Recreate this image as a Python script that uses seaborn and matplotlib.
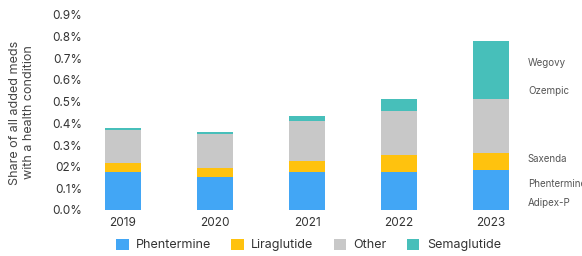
import pandas as pd
import matplotlib.pyplot as plt
import seaborn as sns
from matplotlib.patches import Patch

# data (% of all added meds with a health condition)
years = ["2019", "2020", "2021", "2022", "2023"]
phentermine = [0.174, 0.152, 0.174, 0.174, 0.185]
liraglutide = [0.043, 0.042, 0.052, 0.080, 0.077]
other = [0.154, 0.158, 0.186, 0.203, 0.250]
semaglutide = [0.009, 0.009, 0.022, 0.055, 0.269]
series = ["Phentermine", "Liraglutide", "Other", "Semaglutide"]
colors = ["#42A6F5", "#FFC20E", "#C8C8C8", "#47BFBA"]
ytick_labels = ["0.0%", "0.1%", "02%", "0.3%", "0.4%", "0.5%", "0.6%", "0.7%", "0.8%", "0.9%"]
brand_names = ["Wegovy", "Ozempic", "Saxenda", "Phentermine", "Adipex-P"]
brand_y = [0.678, 0.549, 0.235, 0.120, 0.032]

df = pd.DataFrame({"year": years, "Phentermine": phentermine, "Liraglutide": liraglutide,
                   "Other": other, "Semaglutide": semaglutide})

sns.set_style("white")
plt.rcParams["font.family"] = ["Inter", "DejaVu Sans"]
text_col = "#333333"

fig = plt.figure(figsize=(5.82, 2.56), dpi=100)
ax = fig.add_axes([100 / 582, 46 / 256, 415 / 582, 195 / 256])

# stacked bars, one layer per series
bottom = pd.Series([0.0] * len(years))
for name, col in zip(series, colors):
    sns.barplot(data=df, x="year", y=name, bottom=bottom, color=col, width=0.4,
                saturation=1, ax=ax, linewidth=0)
    bottom = bottom + df[name]

ax.set_ylim(0, 0.9)
ax.set_xlim(-0.25, 4.26)
ax.set_yticks([i / 10 for i in range(10)])
ax.set_yticklabels(ytick_labels)
ax.tick_params(axis="y", length=0, pad=13, labelsize=8.5, labelcolor=text_col)
ax.tick_params(axis="x", length=0, pad=5, labelsize=8.5, labelcolor=text_col)
ax.set_xlabel("")
ax.set_ylabel("Share of all added meds\nwith a health condition", fontsize=9,
              color="#444444", labelpad=12, linespacing=1.2)
sns.despine(ax=ax, left=True, bottom=True)

# brand names next to the 2023 bar
for name, yv in zip(brand_names, brand_y):
    ax.text(4.40, yv, name, fontsize=7, color="#555555", va="center", ha="left", clip_on=False)

handles = [Patch(facecolor=c, edgecolor="none") for c in colors]
fig.legend(handles, series, loc="center", bbox_to_anchor=(0.53, 0.043), ncol=4, frameon=False,
           fontsize=9, handlelength=1.0, handleheight=1.0, columnspacing=1.6, handletextpad=0.6,
           labelcolor=text_col)

fig.savefig("out.png", dpi=100)
